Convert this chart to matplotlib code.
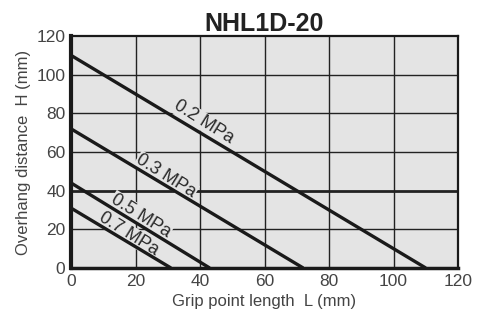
import matplotlib
matplotlib.use("Agg")
import matplotlib.pyplot as plt
import numpy as np

plt.rcParams.update({
    "font.family": ["Liberation Sans", "DejaVu Sans"],
    "font.size": 11,
})

# pressure lines: H at L=0 and L at H=0
pressures = ["0.2 MPa", "0.3 MPa", "0.5 MPa", "0.7 MPa"]
h_start = [110, 72, 44, 31]
l_end = [110, 72, 43, 31]
# label anchor (L, H) for each line
label_x = [41.2, 29.5, 21.7, 18.0]
label_y = [75.5, 47.5, 27.0, 17.5]

xticks = [0, 20, 40, 60, 80, 100, 120]
yticks = [0, 20, 40, 60, 80, 100, 120]

BG = "#e4e4e4"
INK = "#1a1a1a"

fig = plt.figure(figsize=(4.87, 3.13), dpi=100)
ax = fig.add_axes([0.1458, 0.1438, 0.7947, 0.7412])
ax.set_facecolor(BG)
ax.set_xlim(0, 120)
ax.set_ylim(0, 120)

for v in xticks[1:-1]:
    ax.axvline(v, color="#222222", lw=1.0, zorder=1)
for v in yticks[1:-1]:
    ax.axhline(v, color="#222222", lw=2.0 if v == 40 else 1.0, zorder=1)

for h0, l1 in zip(h_start, l_end):
    ax.plot([0, l1], [h0, 0], color=INK, lw=2.4, zorder=3,
            solid_capstyle="butt")

for lab, lx, ly in zip(pressures, label_x, label_y):
    ax.text(lx, ly, lab, rotation=-32, ha="center", va="center",
            fontsize=13, color="#2a2a2a", zorder=2,
            bbox=dict(facecolor=BG, edgecolor="none", pad=0.5))

for side, lw in (("left", 3.0), ("bottom", 2.5), ("top", 1.6), ("right", 1.6)):
    ax.spines[side].set_linewidth(lw)
    ax.spines[side].set_color(INK)

ax.set_xticks(xticks)
ax.set_yticks(yticks)
ax.tick_params(length=0, pad=4, labelsize=12.5, colors="#444444")
ax.set_xlabel("Grip point length  L (mm)", fontsize=12, color="#444444", labelpad=4)
ax.set_ylabel("Overhang distance  H (mm)", fontsize=12, color="#444444", labelpad=4)
ax.set_title("NHL1D-20", fontsize=18, fontweight="bold", color="#222222", pad=3)

fig.savefig("out.png", dpi=100)
